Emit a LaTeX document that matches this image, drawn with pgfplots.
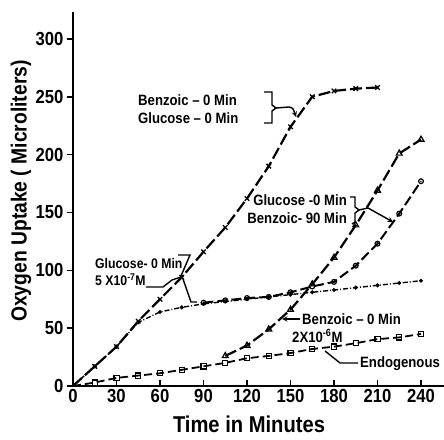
\documentclass[border=0pt]{standalone}
\usepackage{fontspec}
\setmainfont{Liberation Sans}[FakeStretch=0.88]
\usepackage{pgfplots}
\pgfplotsset{compat=1.18}
\begin{document}
\begin{tikzpicture}
\begin{axis}[
  x=1.45bp, y=1.157bp,
  xmin=0, xmax=256, ymin=0, ymax=323,
  axis x line=bottom, axis y line=left,
  axis line style={line width=2.6bp, -},
  xtick={0,30,...,240}, ytick={0,50,...,300},
  xtick align=inside, ytick align=outside,
  major tick length=6bp,
  tick style={line width=1.6bp, black},
  tick label style={font=\fontsize{19}{19}\selectfont\bfseries},
  /pgf/number format/assume math mode=true,
  clip=false,
]
\coordinate (O) at (axis cs:0,0);
% Benzoic-0 Min, Glucose-0 Min (x)
\addplot[black, line width=2.2bp, dash pattern=on 12bp off 4bp, mark=x, mark size=3.2bp, mark repeat=1, mark phase=2, mark options={solid, line width=1.3bp}]
coordinates {(0,0)(15,17)(30,34)(45,56)(60,75)(75,94)(90,116)(105,137)(120,162)(135,190)(150,224)(165,250)(180,255)(195,257)(210,258)};
% Glucose-0 Min 5x10^-7 M (dots)
\addplot[black, line width=1.4bp, dash pattern=on 5bp off 2bp on 1bp off 2bp, mark=*, mark size=1.2bp, mark repeat=1, mark phase=2, mark options={solid, fill=black}]
coordinates {(0,0)(15,17)(30,34)(45,55)(60,64)(75,68)(90,71)(105,73)(120,75)(135,77)(150,79)(165,81)(180,83)(195,85)(210,87)(225,89)(240,91)};
% Benzoic-0 Min 2x10^-6 M (circles)
\addplot[black, line width=2bp, dash pattern=on 10bp off 4bp, mark=o, mark size=2.4bp, mark options={solid, fill=white, line width=1.2bp}]
coordinates {(90,72)(105,74)(120,76)(135,77)(150,81)(165,86)(180,90)(195,104)(210,123)(225,149)(240,177)};
% Glucose-0 Min, Benzoic-90 Min (triangles)
\addplot[black, line width=2.2bp, dash pattern=on 12bp off 4bp, mark=triangle, mark size=3.4bp, mark options={solid, fill=white, line width=1.2bp}]
coordinates {(105,26)(120,35)(135,49)(150,66)(165,88)(180,111)(195,139)(210,169)(225,201)(240,213)};
% Endogenous (squares)
\addplot[black, line width=1.8bp, dash pattern=on 8bp off 4bp, mark=square, mark size=2.6bp, mark repeat=1, mark phase=2, mark options={solid, fill=white, line width=1.2bp}]
coordinates {(0,0)(15,3)(30,7)(45,9)(60,11)(75,14)(90,17)(105,20)(120,24)(135,26)(150,28.5)(165,32)(180,34)(195,37)(210,40.5)(225,42)(240,45)};
\end{axis}
\begin{scope}[shift={(O)}]
\begin{scope}[x=1bp, y=-1bp, shift={(-73bp,386bp)}]
\node[rotate=90, font=\fontsize{22}{22}\selectfont\bfseries] at (21,191) {Oxygen Uptake ( Microliters)};
\node[font=\fontsize{23}{23}\selectfont\bfseries] at (249,424) {Time in Minutes};
\begin{scope}[font=\fontsize{15}{18}\selectfont\bfseries]
\node[anchor=west, align=left, inner sep=0] at (138,109) {Benzoic -- 0 Min\\Glucose -- 0 Min};
\node[anchor=east, align=right, inner sep=0] at (347,209) {Glucose -0 Min\\Benzoic- 90 Min};
\node[anchor=west, align=left, inner sep=0, font=\fontsize{14}{18}\selectfont\bfseries] at (95,272) {Glucose- 0 Min\\5 X10\textsuperscript{-7}M};
\node[anchor=west, inner sep=0] at (302,319) {Benzoic -- 0 Min};
\node[anchor=west, inner sep=0] at (292,336) {2X10\textsuperscript{-6}M};
\node[anchor=west, inner sep=0] at (360,364) {Endogenous};
\end{scope}
\begin{scope}[line width=1.4bp]
\draw (264,92)--(272,92)--(272,105)--(276,108)--(272,111)--(272,123)--(264,123);
\draw[-stealth] (276,108)--(289,107) .. controls (293,108) .. (296,117);
\draw (350,197)--(355,197)--(355,207)--(359,210)--(355,213)--(355,222)--(352,224);
\draw[-stealth] (359,210)--(368,208)--(393,222);
\draw (178,255)--(190,255)--(181,276);
\draw (146,287)--(163,287)--(172,280)--(181,277);
\draw (183,279)--(191,302)--(197,302);
\draw[-stealth] (300,319)--(282,319);
\draw (358,363)--(340,363)--(325,351);
\end{scope}
\pgfresetboundingbox
\path[use as bounding box] (0,0) rectangle (444,440);
\end{scope}
\end{scope}
\end{tikzpicture}
\end{document}
